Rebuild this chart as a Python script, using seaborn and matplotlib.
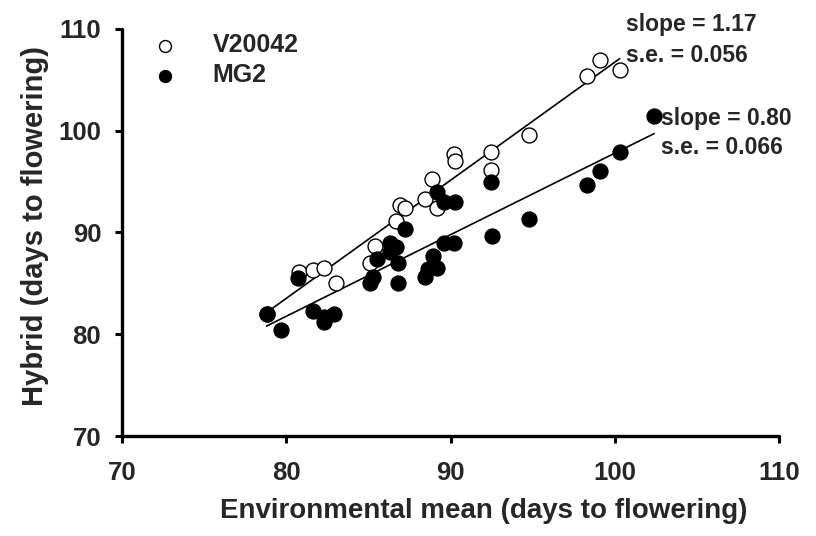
import matplotlib
matplotlib.use("Agg")
import matplotlib.pyplot as plt
import seaborn as sns
import pandas as pd

# ---- data ----
v20042_x = [78.8, 80.8, 81.6, 82.3, 83.0, 85.1, 85.4, 86.7, 86.9, 87.2, 88.45,
            88.9, 89.2, 90.2, 90.3, 92.45, 92.45, 94.75, 98.3, 99.1, 100.3]
v20042_y = [82.0, 86.1, 86.3, 86.5, 85.0, 87.0, 88.7, 91.1, 92.7, 92.4, 93.3,
            95.3, 92.4, 97.7, 97.0, 97.9, 96.1, 99.6, 105.4, 107.0, 106.0]

mg2_x = [78.8, 79.7, 80.7, 81.6, 82.3, 82.3, 82.9, 85.1, 85.3, 85.5, 86.3,
         86.3, 86.7, 86.8, 86.8, 87.2, 88.45, 88.6, 88.95, 89.15, 89.6, 90.2,
         89.15, 89.6, 90.3, 92.45, 92.5, 94.75, 98.3, 99.1, 100.3, 102.4]
mg2_y = [82.0, 80.4, 85.5, 82.3, 81.7, 81.25, 82.0, 85.0, 85.65, 87.4, 88.1,
         89.0, 88.6, 87.0, 85.0, 90.3, 85.65, 86.4, 87.7, 86.5, 88.95, 88.95,
         94.0, 93.0, 93.0, 94.95, 89.7, 91.3, 94.7, 96.0, 97.95, 101.45]

series_names = ["V20042", "MG2"]
annotations = [("slope = 1.17", "s.e. = 0.056"), ("slope = 0.80", "s.e. = 0.066")]
x_ticks = [70, 80, 90, 100, 110]
y_ticks = [70, 80, 90, 100, 110]
x_label = "Environmental mean (days to flowering)"
y_label = "Hybrid (days to flowering)"

df_v = pd.DataFrame({"x": v20042_x, "y": v20042_y})
df_m = pd.DataFrame({"x": mg2_x, "y": mg2_y})

sns.set_theme(style="ticks")
plt.rcParams["font.family"] = ["Liberation Sans", "DejaVu Sans"]
plt.rcParams["font.weight"] = "bold"

W, H = 816, 536
fig = plt.figure(figsize=(W / 100, H / 100), dpi=100)
ax = fig.add_axes([122 / W, 1 - 436 / H, (779 - 122) / W, (436 - 29) / H])

# regression lines
sns.regplot(data=df_v, x="x", y="y", ax=ax, scatter=False, ci=None,
            truncate=True, line_kws=dict(color="black", lw=1.2))
sns.regplot(data=df_m, x="x", y="y", ax=ax, scatter=False, ci=None,
            truncate=True, line_kws=dict(color="black", lw=1.2))

# points (filled drawn on top of open)
sns.scatterplot(data=df_v, x="x", y="y", ax=ax, s=115, facecolor="white",
                edgecolor="black", linewidth=1.0, label=series_names[0], zorder=3)
sns.scatterplot(data=df_m, x="x", y="y", ax=ax, s=115, color="black",
                edgecolor="black", linewidth=1.0, label=series_names[1], zorder=4)

ax.set_xlim(70, 110)
ax.set_ylim(70, 110)
ax.set_xticks(x_ticks)
ax.set_yticks(y_ticks)
ax.set_xticklabels([str(t) for t in x_ticks], fontsize=18.5, fontweight="bold")
ax.set_yticklabels([str(t) for t in y_ticks], fontsize=18.5, fontweight="bold")
ax.tick_params(axis="both", direction="out", length=5, width=2.2, color="black")
ax.tick_params(axis="x", pad=13)
ax.tick_params(axis="y", pad=10)
ax.set_xlabel(x_label, fontsize=20, fontweight="bold")
ax.set_ylabel(y_label, fontsize=21, fontweight="bold")
ax.xaxis.set_label_coords((484 - 122) / 657, -(498 - 436) / 407)
ax.yaxis.set_label_coords(-(122 - 49) / 657, (436 - 226) / 407)

for side in ["top", "right"]:
    ax.spines[side].set_visible(False)
for side in ["left", "bottom"]:
    ax.spines[side].set_linewidth(2.4)
    ax.spines[side].set_color("black")
    ax.spines[side].set_capstyle("round")

# legend
handles, labels = ax.get_legend_handles_labels()
order = [labels.index(n) for n in series_names]
leg = ax.legend([handles[i] for i in order], [labels[i] for i in order],
                loc="upper left", bbox_to_anchor=(-0.007, 1.045), frameon=False,
                prop=dict(size=18, weight="bold"), handletextpad=0.9,
                labelspacing=0.25, markerscale=0.8)

# annotations
fs = 16.5
fig.text(626 / W, 1 - 25 / H, annotations[0][0], fontsize=fs, fontweight="bold", va="center")
fig.text(626 / W, 1 - 55 / H, annotations[0][1], fontsize=fs, fontweight="bold", va="center")
fig.text(661 / W, 1 - 118 / H, annotations[1][0], fontsize=fs, fontweight="bold", va="center")
fig.text(661 / W, 1 - 148 / H, annotations[1][1], fontsize=fs, fontweight="bold", va="center")

fig.savefig("out.png", dpi=100, facecolor="white")
